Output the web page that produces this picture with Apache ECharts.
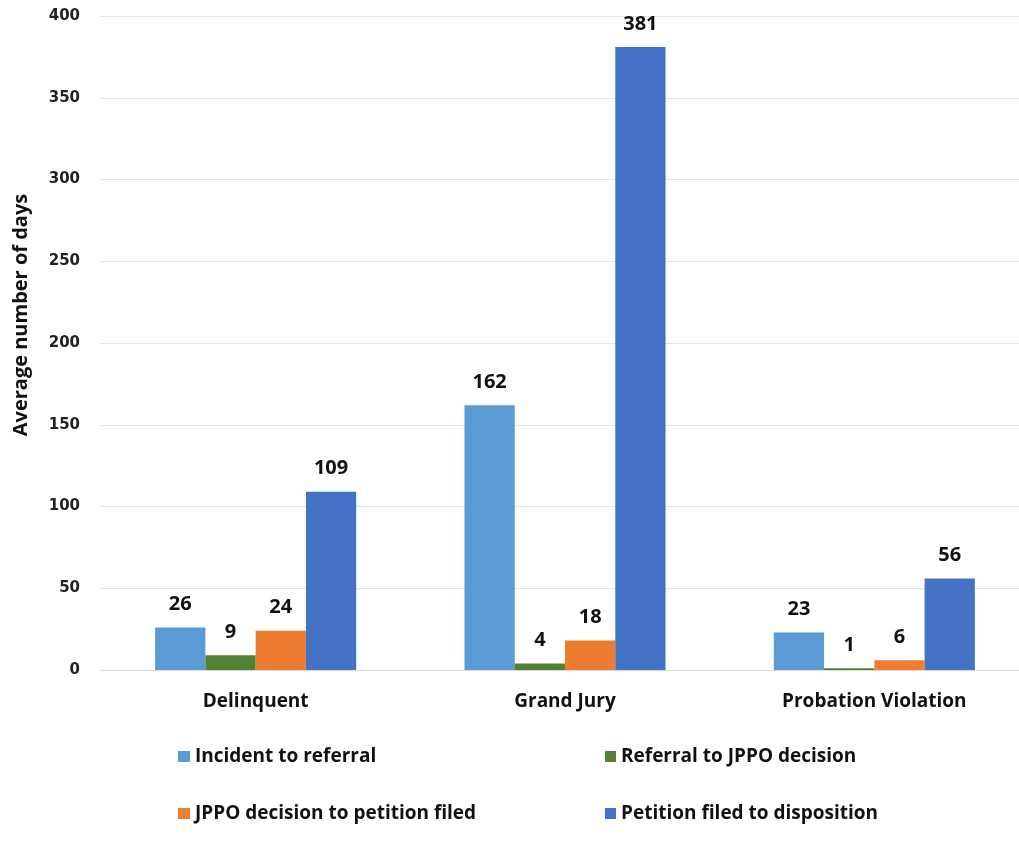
<!DOCTYPE html>
<html>
<head>
<meta charset="utf-8">
<script src="https://cdn.jsdelivr.net/npm/echarts@6/dist/echarts.min.js"></script>
<style>
html,body{margin:0;padding:0;background:#fff;}
#chart{width:1019px;height:855px;}
</style>
</head>
<body>
<div id="chart"></div>
<script>
const categories = ["Delinquent", "Grand Jury", "Probation Violation"];
const seriesNames = ["Incident to referral", "Referral to JPPO decision", "JPPO decision to petition filed", "Petition filed to disposition"];
const incidentToReferral = [26, 162, 23];
const referralToDecision = [9, 4, 1];
const decisionToPetition = [24, 18, 6];
const petitionToDisposition = [109, 381, 56];
const yTicks = [0, 50, 100, 150, 200, 250, 300, 350, 400];

const colors = ["#5B9BD5", "#548235", "#ED7D31", "#4472C4"];
const values = [incidentToReferral, referralToDecision, decisionToPetition, petitionToDisposition];
const labelFont = "Open Sans";

const chart = echarts.init(document.getElementById('chart'), null, {renderer: 'canvas'});
chart.setOption({
  animation: false,
  backgroundColor: '#fff',
  grid: {left: 101, top: 16, width: 928, height: 654, containLabel: false, outerBoundsMode: 'none'},
  legend: [
    {
      data: [seriesNames[0], seriesNames[2]],
      orient: 'vertical', left: 173, top: 742, itemGap: 38,
      itemWidth: 12, itemHeight: 11, icon: 'rect',
      textStyle: {fontFamily: labelFont, fontWeight: 'bold', fontSize: 19, color: '#111'}
    },
    {
      data: [seriesNames[1], seriesNames[3]],
      orient: 'vertical', left: 600, top: 742, itemGap: 38,
      itemWidth: 11, itemHeight: 11, icon: 'rect',
      textStyle: {fontFamily: labelFont, fontWeight: 'bold', fontSize: 19, color: '#111'}
    }
  ],
  xAxis: {
    type: 'category',
    data: categories,
    axisLine: {lineStyle: {color: '#d9d9d9'}},
    axisTick: {show: false},
    axisLabel: {margin: 22, fontFamily: labelFont, fontWeight: 'bold', fontSize: 19, color: '#111'}
  },
  yAxis: {
    type: 'value', min: yTicks[0], max: yTicks[yTicks.length - 1], interval: 50,
    name: 'Average number of days', nameLocation: 'middle', nameGap: 70,
    nameTextStyle: {fontFamily: labelFont, fontWeight: 'bold', fontSize: 20, color: '#111', padding: [0, 0, 0, 56]},
    axisLine: {show: false}, axisTick: {show: false},
    axisLabel: {margin: 21, fontFamily: 'DejaVu Sans', fontWeight: 'bold', fontSize: 15, color: '#222'},
    splitLine: {lineStyle: {color: '#e3e3e3', width: 1}}
  },
  series: seriesNames.map((name, i) => ({
    name: name,
    type: 'bar',
    data: values[i],
    barGap: '0%',
    barCategoryGap: '35%',
    itemStyle: {color: colors[i]},
    label: {show: true, position: 'top', distance: 13, fontFamily: labelFont, fontWeight: 'bold', fontSize: 20, color: '#111'}
  }))
});
</script>
</body>
</html>
